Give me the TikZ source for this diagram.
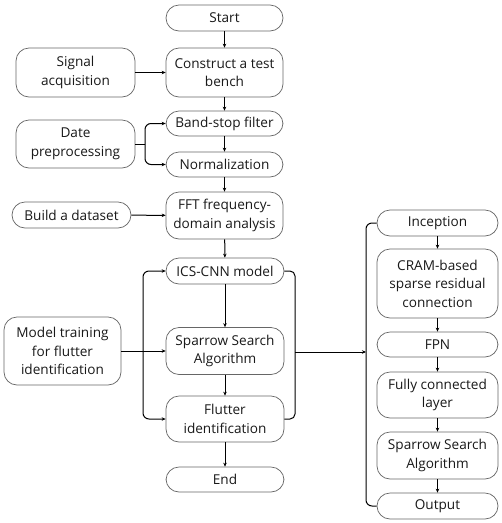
\documentclass[tikz,border=0pt]{standalone}
\usepackage{fontspec}
\setmainfont{Open Sans}
\usetikzlibrary{arrows.meta}
\begin{document}
\begin{tikzpicture}[x=1pt,y=-1pt,
  box/.style={draw=black!60,line width=0.7pt,rounded corners=13pt,align=center,inner sep=0pt,
    font=\fontsize{13.6}{18.5}\selectfont,text=black!90},
  arr/.style={line width=1pt,-{Stealth[length=4pt,width=3.5pt]}},
  ln/.style={line width=1pt}]
\useasboundingbox (0,0) rectangle (502,523);
\fill[white] (0,0) rectangle (502,523);
% main column
\node[box,minimum width=117pt,minimum height=26pt] (start) at (224.5,18) {Start};
\node[box,minimum width=117pt,minimum height=49pt] (bench) at (224.5,72.5) {Construct a test\\bench};
\node[box,minimum width=119pt,minimum height=49pt] (signal) at (75.5,72.5) {Signal\\acquisition};
\node[box,minimum width=117pt,minimum height=25pt] (band) at (224.5,123.5) {Band-stop filter};
\node[box,minimum width=117pt,minimum height=25pt] (norm) at (224.5,164.5) {Normalization};
\node[box,minimum width=119pt,minimum height=48pt] (date) at (75.5,144) {Date\\preprocessing};
\node[box,minimum width=117pt,minimum height=47pt] (fft) at (224.5,215.5) {FFT frequency-\\domain analysis};
\node[box,minimum width=119pt,minimum height=26pt] (dataset) at (71.5,215) {Build a dataset};
\node[box,minimum width=118pt,minimum height=26pt] (ics) at (225,271) {ICS-CNN model};
\node[box,minimum width=117pt,minimum height=68pt] (train) at (62.5,351) {Model training\\for flutter\\identification};
\node[box,minimum width=118pt,minimum height=47pt] (ssa) at (225,351) {Sparrow Search\\Algorithm};
\node[box,minimum width=118pt,minimum height=46pt] (flutter) at (225,419) {Flutter\\identification};
\node[box,minimum width=118pt,minimum height=25pt] (end) at (225,479.5) {End};
% right column
\node[box,minimum width=121pt,minimum height=26pt] (incep) at (437.5,223) {Inception};
\node[box,minimum width=121pt,minimum height=69pt] (cram) at (437.5,283.5) {CRAM-based\\sparse residual\\connection};
\node[box,minimum width=121pt,minimum height=25pt] (fpn) at (437.5,344.5) {FPN};
\node[box,minimum width=121pt,minimum height=46pt] (fc) at (437.5,395) {Fully connected\\layer};
\node[box,minimum width=121pt,minimum height=47pt] (ssa2) at (437.5,455.5) {Sparrow Search\\Algorithm};
\node[box,minimum width=121pt,minimum height=26pt] (out) at (437.5,506) {Output};
% main flow
\draw[arr] (start) -- (bench);
\draw[arr] (bench) -- (band);
\draw[arr] (band) -- (norm);
\draw[arr] (norm) -- (fft);
\draw[arr] (fft) -- (ics);
\draw[arr] (ics) -- (ssa);
\draw[arr] (ssa) -- (flutter);
\draw[arr] (flutter) -- (end);
\draw[arr] (signal) -- (bench);
\draw[arr] (dataset) -- (fft);
% date branching
\coordinate (dj) at (145,144);
\draw[ln] (date.east) -- (dj);
\draw[arr,rounded corners=6pt] (dj) |- (band.west);
\draw[arr,rounded corners=6pt] (dj) |- (norm.west);
% training branching
\coordinate (tj) at (143,351);
\draw[arr] (train.east) -- (ssa.west);
\draw[arr,rounded corners=6pt] (tj) |- (ics.west);
\draw[arr,rounded corners=6pt] (tj) |- (flutter.west);
% right bracket of main column
\coordinate (bt) at (295,271);
\coordinate (bb) at (295,419);
\coordinate (bm) at (295,352);
\coordinate (lm) at (366,352);
\draw[ln,rounded corners=5pt] (ics.east) -- (bt) -- (bb) -- (flutter.east);
\draw[arr] (bm) -- (lm);
% left bracket of right column
\coordinate (lt) at (366,223);
\coordinate (lb) at (366,506);
\draw[ln,rounded corners=6pt] (incep.west) -- (lt) -- (lb) -- (out.west);
% right flow
\draw[arr] (incep) -- (cram);
\draw[arr] (cram) -- (fpn);
\draw[arr] (fpn) -- (fc);
\draw[arr] (fc) -- (ssa2);
\draw[arr] (ssa2) -- (out);
\end{tikzpicture}
\end{document}
